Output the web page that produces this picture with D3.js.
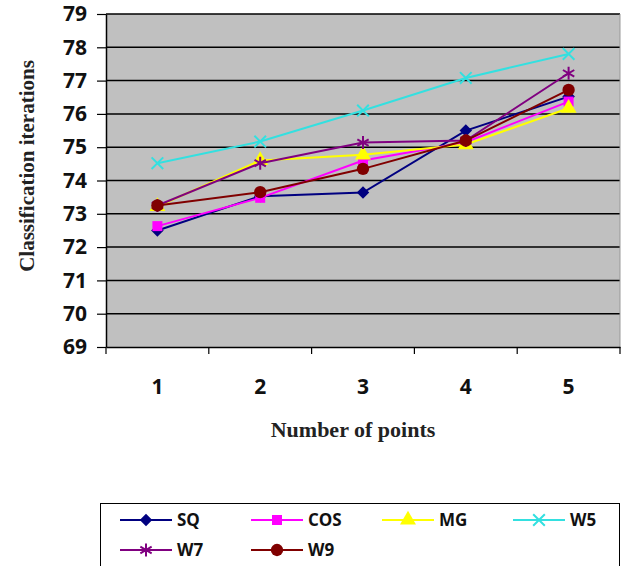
<!DOCTYPE html>
<html>
<head>
<meta charset="utf-8">
<script src="https://cdn.jsdelivr.net/npm/d3@7"></script>
<style>
  body { margin: 0; background: #fff; }
</style>
</head>
<body>
<div id="chart"><svg></svg></div>
<script>
var categories = ['1', '2', '3', '4', '5']
var seriesNames = ['SQ', 'COS', 'MG', 'W5', 'W7', 'W9']
var sqValues = [72.5, 73.53, 73.64, 75.5, 76.52]
var cosValues = [72.63, 73.48, 74.6, 75.15, 76.37]
var mgValues = [73.22, 74.6, 74.77, 75.08, 76.17]
var w5Values = [74.52, 75.17, 76.1, 77.08, 77.8]
var w7Values = [73.25, 74.52, 75.14, 75.2, 77.22]
var w9Values = [73.25, 73.65, 74.35, 75.2, 76.72]
var yTicks = [69, 70, 71, 72, 73, 74, 75, 76, 77, 78, 79]

var colors = ['#000080', '#ff00ff', '#ffff00', '#33e0e0', '#800080', '#800000']
var symbols = ['diamond', 'square', 'triangle', 'x', 'star', 'circle']
var allValues = [sqValues, cosValues, mgValues, w5Values, w7Values, w9Values]

var width = 624; var height = 566
var margin = { top: 14, left: 106, right: 4 }
var plotBottom = 347

var svg = d3.select('#chart').select('svg')
  .attr('width', width)
  .attr('height', height)

var x = d3.scaleBand()
  .domain(categories)
  .range([margin.left, width - margin.right])

var y = d3.scaleLinear()
  .domain([69, 79])
  .range([plotBottom, margin.top])

// plot background
svg.append('rect')
  .attr('x', margin.left)
  .attr('y', margin.top)
  .attr('width', width - margin.right - margin.left)
  .attr('height', plotBottom - margin.top)
  .attr('fill', '#c0c0c0')

// gridlines
svg.selectAll('.grid')
  .data(yTicks.slice(1))
  .enter().append('line')
  .attr('x1', margin.left)
  .attr('x2', width - margin.right)
  .attr('y1', d => y(d))
  .attr('y2', d => y(d))
  .attr('stroke', '#000')
  .attr('stroke-width', 1.5)

svg.append('line')
  .attr('x1', width - margin.right).attr('x2', width - margin.right)
  .attr('y1', margin.top).attr('y2', plotBottom)
  .attr('stroke', '#999')

// y axis
var yAxis = svg.append('g')
  .attr('transform', 'translate(' + margin.left + ',0)')
  .call(d3.axisLeft(y).tickValues(yTicks).tickSize(9).tickPadding(10).tickSizeOuter(0).tickFormat(d3.format('d')))
yAxis.select('.domain').attr('stroke', '#000').attr('stroke-width', 1.5)
yAxis.selectAll('.tick line').attr('stroke-width', 1.2)
yAxis.selectAll('text')
  .attr('font-family', 'Open Sans, sans-serif')
  .attr('font-weight', 'bold')
  .attr('font-size', 21)
  .attr('fill', '#111')

// x axis
var xAxis = svg.append('g')
  .attr('transform', 'translate(0,' + plotBottom + ')')
  .call(d3.axisBottom(x).tickSize(0).tickPadding(32))
xAxis.select('.domain').attr('stroke', '#000').attr('stroke-width', 1.5)
xAxis.selectAll('text')
  .attr('font-family', 'Open Sans, sans-serif')
  .attr('font-weight', 'bold')
  .attr('font-size', 21)
  .attr('fill', '#111')

// x boundary ticks
var bounds = categories.map(c => x(c)).concat([x(categories[categories.length - 1]) + x.bandwidth()])
svg.selectAll('.xtick')
  .data(bounds)
  .enter().append('line')
  .attr('x1', d => d).attr('x2', d => d)
  .attr('y1', plotBottom).attr('y2', plotBottom + 7)
  .attr('stroke', '#000')
  .attr('stroke-width', 1.2)

// axis titles
svg.append('text')
  .attr('x', 353)
  .attr('y', 437)
  .attr('text-anchor', 'middle')
  .attr('font-family', 'Liberation Serif, serif')
  .attr('font-weight', 'bold')
  .attr('font-size', 22)
  .attr('fill', '#222')
  .text('Number of points')

svg.append('text')
  .attr('transform', 'translate(34,' + 166 + ') rotate(-90)')
  .attr('text-anchor', 'middle')
  .attr('font-family', 'Liberation Serif, serif')
  .attr('font-weight', 'bold')
  .attr('font-size', 21)
  .attr('fill', '#222')
  .text('Classification iterations')

function symbolPath (name) {
  if (name === 'diamond') return d3.symbol().type(d3.symbolDiamond2).size(100)()
  if (name === 'square') return d3.symbol().type(d3.symbolSquare).size(100)()
  if (name === 'triangle') return d3.symbol().type(d3.symbolTriangle).size(110)()
  if (name === 'x') return d3.symbol().type(d3.symbolX).size(90)()
  if (name === 'star') return d3.symbol().type(d3.symbolAsterisk).size(120)()
  return d3.symbol().type(d3.symbolCircle).size(120)()
}
function isStroked (name) { return name === 'x' || name === 'star' }

var line = d3.line()
  .x((d, i) => x(categories[i]) + x.bandwidth() / 2)
  .y(d => y(d))

allValues.forEach((vals, s) => {
  svg.append('path')
    .attr('d', line(vals))
    .attr('fill', 'none')
    .attr('stroke', colors[s])
    .attr('stroke-width', 2)

  svg.selectAll('.m' + s)
    .data(vals)
    .enter().append('path')
    .attr('transform', (d, i) => 'translate(' + (x(categories[i]) + x.bandwidth() / 2) + ',' + y(d) + ')')
    .attr('d', symbolPath(symbols[s]))
    .attr('fill', isStroked(symbols[s]) ? 'none' : colors[s])
    .attr('stroke', colors[s])
    .attr('stroke-width', isStroked(symbols[s]) ? 2 : 0)
})

// legend
svg.append('rect')
  .attr('x', 100.5)
  .attr('y', 503.5)
  .attr('width', 519)
  .attr('height', 80)
  .attr('fill', '#fff')
  .attr('stroke', '#000')
  .attr('stroke-width', 1)

var legend = svg.selectAll('.legend')
  .data(seriesNames)
  .enter().append('g')
  .attr('transform', (d, i) => 'translate(' + (120 + (i % 4) * 131) + ',' + (520 + Math.floor(i / 4) * 30) + ')')

legend.append('line')
  .attr('x1', 0).attr('x2', 52)
  .attr('stroke', (d, i) => colors[i])
  .attr('stroke-width', 2)

legend.append('path')
  .attr('transform', 'translate(26,0)')
  .attr('d', (d, i) => symbolPath(symbols[i]))
  .attr('fill', (d, i) => isStroked(symbols[i]) ? 'none' : colors[i])
  .attr('stroke', (d, i) => colors[i])
  .attr('stroke-width', (d, i) => isStroked(symbols[i]) ? 2 : 0)

legend.append('text')
  .attr('x', 57)
  .attr('dy', '0.35em')
  .attr('font-family', 'Open Sans, sans-serif')
  .attr('font-weight', 'bold')
  .attr('font-size', 17)
  .attr('fill', '#111')
  .text(d => d)
</script>
</body>
</html>
